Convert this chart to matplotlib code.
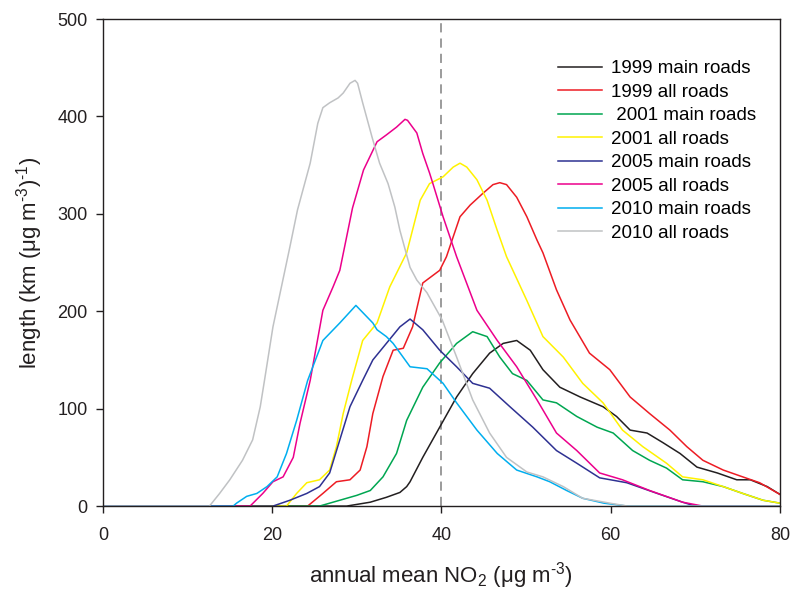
import matplotlib
matplotlib.use("Agg")
import matplotlib.pyplot as plt

plt.rcParams['font.family'] = ['Liberation Sans', 'DejaVu Sans']
plt.rcParams['mathtext.fontset'] = 'custom'
plt.rcParams['mathtext.rm'] = 'Liberation Sans'
plt.rcParams['mathtext.it'] = 'Liberation Sans:italic'
plt.rcParams['mathtext.bf'] = 'Liberation Sans:bold'

# --- data ---
x_1999_main = [0, 28.8, 31.6, 33.5, 35.1, 35.9, 36.3, 37.8, 39.8, 41.8, 43.7, 45.7, 47.3, 48.9, 50.5, 52.0,
               54.0, 56.4, 59.1, 60.7, 62.3, 64.3, 66.2, 68.2, 70.2, 72.6, 74.9, 76.5, 78.5, 80]
y_1999_main = [0, 0, 4, 9, 14, 20, 25, 50, 81, 112, 136, 157, 167, 170, 160, 140,
               122, 112, 102, 92, 78, 75, 65, 54, 40, 34, 27, 27, 20, 12]

x_1999_all = [0, 24.2, 26.0, 27.6, 29.2, 30.4, 31.2, 31.9, 33.1, 34.3, 35.5, 36.6, 37.8, 39.8, 40.6, 42.2,
              43.4, 44.9, 46.1, 46.9, 47.7, 48.9, 50.1, 51.3, 52.0, 53.6, 55.2, 57.5, 59.9, 62.3,
              64.6, 67.0, 69.0, 70.9, 73.3, 75.6, 77.6, 80]
y_1999_all = [0, 0, 13, 25, 27, 37, 61, 95, 133, 160, 162, 184, 229, 242, 256, 297,
              309, 321, 330, 332, 330, 317, 297, 273, 260, 222, 191, 157, 140, 112,
              95, 78, 61, 47, 37, 30, 24, 12]

x_2001_main = [0, 25.6, 28.0, 30.0, 31.6, 33.1, 34.7, 35.9, 37.8, 39.8, 41.8, 43.7, 45.4, 46.9, 48.4, 50.1,
               52.0, 53.6, 56.0, 58.4, 60.3, 62.6, 64.6, 66.6, 68.5, 70.9, 73.3, 75.6, 78.0, 80]
y_2001_main = [0, 0, 6, 11, 16, 30, 54, 88, 122, 147, 167, 179, 174, 153, 136, 129,
               109, 106, 92, 81, 75, 57, 47, 39, 27, 25, 20, 13, 6, 3]

x_2001_all = [0, 21.7, 22.9, 24.1, 25.6, 26.8, 27.6, 28.4, 29.4, 30.7, 32.4, 33.9, 35.9, 37.5, 38.6, 40.2,
              41.4, 42.2, 43.0, 44.2, 45.4, 46.6, 47.7, 50.1, 52.0, 54.4, 56.7, 59.1, 61.4, 63.8,
              66.6, 68.5, 70.9, 73.3, 75.6, 78.0, 80]
y_2001_all = [0, 0, 13, 24, 27, 37, 61, 95, 129, 170, 188, 225, 260, 314, 331, 338,
              348, 352, 348, 335, 314, 283, 256, 211, 174, 153, 126, 106, 78, 61,
              44, 30, 27, 20, 13, 6, 3]

x_2005_main = [0, 20.1, 22.1, 24.1, 25.6, 26.8, 28.0, 29.2, 30.7, 31.9, 33.5, 35.1, 36.3, 37.8, 39.8, 41.8,
               43.7, 45.7, 48.1, 50.8, 53.6, 56.0, 58.7, 61.9, 65.5, 68.5, 70.0, 80]
y_2005_main = [0, 0, 6, 13, 20, 34, 68, 102, 129, 150, 167, 184, 192, 181, 160, 143,
               126, 121, 102, 81, 57, 44, 29, 24, 13, 4, 0, 0]

x_2005_all = [0, 17.4, 18.9, 20.1, 21.3, 22.5, 23.3, 24.5, 26.0, 27.2, 28.0, 29.5, 30.8, 32.4, 33.5, 34.7,
              35.7, 36.0, 37.1, 37.8, 38.6, 39.0, 40.2, 41.8, 44.2, 46.6, 48.9, 51.3, 53.6, 56.0,
              58.7, 61.4, 64.6, 68.5, 70.9, 80]
y_2005_all = [0, 0, 13, 25, 30, 50, 85, 129, 201, 225, 242, 306, 345, 374, 381, 389,
              397, 396, 383, 362, 342, 331, 297, 256, 201, 170, 143, 109, 75, 57,
              34, 27, 16, 4, 0, 0]

x_2010_main = [0, 15.4, 15.8, 17.0, 18.2, 19.4, 20.6, 21.7, 22.9, 24.2, 26.0, 28.0, 29.9, 31.9, 32.4, 33.5,
               34.3, 36.3, 38.3, 40.2, 41.8, 44.2, 46.6, 48.9, 51.3, 52.8, 54.8, 56.7, 59.2, 62.0, 80]
y_2010_main = [0, 0, 3, 10, 13, 20, 30, 54, 88, 129, 170, 188, 206, 188, 181, 174,
               167, 143, 141, 126, 106, 78, 54, 37, 30, 25, 16, 8, 3, 0, 0]

x_2010_all = [0, 12.6, 13.8, 15.0, 16.5, 17.7, 18.6, 19.1, 20.1, 22.1, 23.0, 24.5, 25.4, 26.0, 26.8, 27.8,
              28.4, 29.2, 29.8, 30.1, 30.7, 31.8, 32.7, 33.7, 34.5, 35.1, 36.3, 37.1, 38.3, 40.1,
              41.8, 43.7, 45.7, 47.7, 50.1, 52.0, 54.4, 56.7, 59.9, 62.0, 80]
y_2010_all = [0, 0, 13, 27, 47, 68, 102, 129, 184, 266, 304, 352, 393, 409, 414, 419,
              424, 434, 437, 434, 414, 379, 352, 331, 307, 283, 245, 232, 219, 191,
              153, 109, 75, 50, 35, 30, 20, 8, 3, 0, 0]

series = [
    ("1999 main roads", x_1999_main, y_1999_main, "#231f20"),
    ("1999 all roads", x_1999_all, y_1999_all, "#ed1c24"),
    (" 2001 main roads", x_2001_main, y_2001_main, "#00a651"),
    ("2001 all roads", x_2001_all, y_2001_all, "#fff200"),
    ("2005 main roads", x_2005_main, y_2005_main, "#2e3192"),
    ("2005 all roads", x_2005_all, y_2005_all, "#ec008c"),
    ("2010 main roads", x_2010_main, y_2010_main, "#00aeef"),
    ("2010 all roads", x_2010_all, y_2010_all, "#c0c2c4"),
]

x_ticks = [0, 20, 40, 60, 80]
y_ticks = [0, 100, 200, 300, 400, 500]
limit_value = 40

fig = plt.figure(figsize=(7.91, 5.94), dpi=100)
ax = fig.add_axes([0.130, 0.148, 0.856, 0.820])

for label, xs, ys, c in series:
    ax.plot(xs, ys, color=c, lw=1.1, label=label, solid_joinstyle='round')

ax.axvline(limit_value, color="#808080", lw=1.1, ls=(0, (6, 4)), zorder=0)

ax.set_xlim(0, 80)
ax.set_ylim(0, 500)
ax.set_xticks(x_ticks)
ax.set_yticks(y_ticks)
ax.tick_params(direction='out', length=5, width=1, labelsize=13, colors='#231f20')
ax.tick_params(axis='x', pad=10)
ax.tick_params(axis='y', pad=6)
for s in ax.spines.values():
    s.set_color('#231f20')
    s.set_linewidth(1.0)

ax.set_xlabel(r"annual mean NO$_{\mathregular{2}}$ ($\mathregular{\mu}$g m$^{\text{-3}}$)",
              fontsize=16, color='#231f20', labelpad=12)
ax.set_ylabel(r"length (km ($\mathregular{\mu}$g m$^{\text{-3}}$)$^{\text{-1}}$)",
              fontsize=16, color='#231f20', labelpad=9)

leg = ax.legend(loc='upper left', bbox_to_anchor=(0.659, 0.935), frameon=False, fontsize=13.5,
                handlelength=2.35, handletextpad=0.43, labelspacing=0.34, borderpad=0)
fig.savefig("out.png", dpi=100)
